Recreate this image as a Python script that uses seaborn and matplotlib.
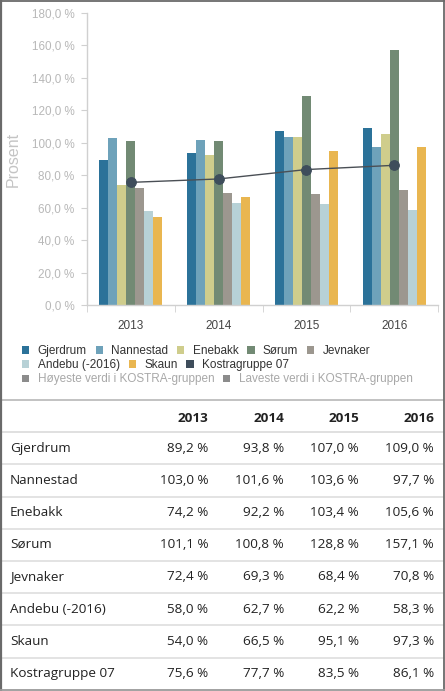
import matplotlib
matplotlib.use("Agg")
import matplotlib.pyplot as plt
from matplotlib.lines import Line2D
from matplotlib.patches import Patch
from matplotlib.ticker import FuncFormatter, FixedLocator
import seaborn as sns
import pandas as pd

years = ["2013", "2014", "2015", "2016"]
kommuner = ["Gjerdrum", "Nannestad", "Enebakk", "Sørum", "Jevnaker", "Andebu (-2016)", "Skaun"]
gjerdrum = [89.2, 93.8, 107.0, 109.0]
nannestad = [103.0, 101.6, 103.6, 97.7]
enebakk = [74.2, 92.2, 103.4, 105.6]
sorum = [101.1, 100.8, 128.8, 157.1]
jevnaker = [72.4, 69.3, 68.4, 70.8]
andebu = [58.0, 62.7, 62.2, 58.3]
skaun = [54.0, 66.5, 95.1, 97.3]
kostra_name = "Kostragruppe 07"
kostra = [75.6, 77.7, 83.5, 86.1]
extra_legend = ["Høyeste verdi i KOSTRA-gruppen", "Laveste verdi i KOSTRA-gruppen"]

colors = ["#2b7299", "#6ea2ba", "#cfcd8c", "#728a74", "#9c978f", "#b7d1d6", "#e9b650"]
kostra_color = "#3e4d5b"

series = [gjerdrum, nannestad, enebakk, sorum, jevnaker, andebu, skaun]
rows = []
for name, vals in zip(kommuner, series):
    for y, v in zip(years, vals):
        rows.append({"year": y, "kommune": name, "value": v})
df = pd.DataFrame(rows)
kdf = pd.DataFrame({"year": years, "value": kostra})

sns.set_style("white")
plt.rcParams["font.family"] = ["Liberation Sans", "DejaVu Sans"]

W, H = 445, 691
fig = plt.figure(figsize=(W / 100, H / 100), dpi=100)

def fx(px):
    return px / W

def fy(py):
    return 1 - py / H

ax = fig.add_axes([fx(87), fy(305), fx(438) - fx(87), fy(13) - fy(305)])
sns.barplot(data=df, x="year", y="value", hue="kommune", order=years, hue_order=kommuner,
            palette=colors, width=0.72, saturation=1, dodge=True, ax=ax, legend=False,
            linewidth=0, errorbar=None)
sns.pointplot(data=kdf, x="year", y="value", order=years, color=kostra_color, ax=ax,
              markers="o", markersize=7, linewidth=1.0, errorbar=None)
for line in ax.lines:
    line.set_color("#4a4f55")
    line.set_markerfacecolor(kostra_color)
    line.set_markeredgecolor(kostra_color)
for coll in ax.collections:
    coll.set_facecolor(kostra_color)
    coll.set_edgecolor(kostra_color)

ax.set_xlim(-0.5, 3.5)
ax.set_ylim(0, 180)
ax.set_yticks(range(0, 181, 20))
ax.yaxis.set_major_formatter(FuncFormatter(lambda v, p: f"{v:.1f}".replace(".", ",") + " %"))
ax.set_xlabel("")
ax.set_ylabel("Prosent", fontsize=11.5, color="#c4c4c4", labelpad=8)
for s in ["top", "right"]:
    ax.spines[s].set_visible(False)
for s in ["left", "bottom"]:
    ax.spines[s].set_color("#d0d0d0")
    ax.spines[s].set_linewidth(1.0)
ax.tick_params(axis="y", which="major", length=4, color="#d0d0d0", labelsize=8.4,
               labelcolor="#b8b8b8", pad=5, left=True)
ax.tick_params(axis="x", which="major", length=0, labelsize=8.5, labelcolor="#444444", pad=11)
ax.xaxis.set_minor_locator(FixedLocator([-0.5, 0.5, 1.5, 2.5, 3.5]))
ax.tick_params(axis="x", which="minor", length=5, color="#d0d0d0", bottom=True)
ax.yaxis.label.set_position((0, (fy(159) - fy(305)) / (fy(13) - fy(305))))

# legends
def make_legend(labels, cols, y, textcolor):
    handles = [Patch(facecolor=c, edgecolor="none") for c in cols]
    leg = fig.legend(handles, labels, loc="center left", bbox_to_anchor=(fx(22), fy(y)),
                     ncol=len(labels), frameon=False, fontsize=8.5, handlelength=0.62,
                     handleheight=0.62, handletextpad=0.7, columnspacing=0.75,
                     borderpad=0, borderaxespad=0)
    for t in leg.get_texts():
        t.set_color(textcolor)
    return leg

make_legend(kommuner[:5], colors[:5], 351, "#333333")
make_legend(kommuner[5:] + [kostra_name], colors[5:] + [kostra_color], 365, "#333333")
make_legend(extra_legend, ["#8c8c8c", "#8c8c8c"], 379.5, "#a8a8a8")

# table
tfont = ["Open Sans", "DejaVu Sans"]
col_x = [208, 284, 359, 434]
for x, yr in zip(col_x, years):
    fig.text(fx(x), fy(418), yr, ha="right", va="center", fontsize=9.7, fontweight="bold",
             color="#222222", family=tfont)
table_rows = list(zip(kommuner + [kostra_name], series + [kostra]))
line_y = [400 + 32.2 * i for i in range(1, 10)]
fig.add_artist(Line2D([fx(2), fx(443)], [fy(400), fy(400)], color="#bdbdbd", lw=1.3,
                      transform=fig.transFigure))
for i, (name, vals) in enumerate(table_rows):
    yc = 432 + 32.2 * i + 16.1
    fig.text(fx(10), fy(yc), name, ha="left", va="center", fontsize=9.7, color="#222222", family=tfont)
    for x, v in zip(col_x, vals):
        fig.text(fx(x), fy(yc), f"{v:.1f}".replace(".", ",") + " %", ha="right", va="center",
                 fontsize=9.7, color="#222222", family=tfont)
for ly in line_y[:8]:
    fig.add_artist(Line2D([fx(2), fx(443)], [fy(ly), fy(ly)], color="#e0e0e0", lw=1.3,
                          transform=fig.transFigure))
fig.add_artist(Line2D([fx(2), fx(443)], [fy(432), fy(432)], color="#e0e0e0", lw=1.3,
                      transform=fig.transFigure))

# frame
fr = "#6a6a6a"
fig.add_artist(Line2D([fx(1), fx(1)], [0, 1], color=fr, lw=1.6, transform=fig.transFigure))
fig.add_artist(Line2D([fx(443.5), fx(443.5)], [0, 1], color=fr, lw=1.3, transform=fig.transFigure))
fig.add_artist(Line2D([0, 1], [fy(0.5), fy(0.5)], color=fr, lw=1.3, transform=fig.transFigure))
fig.add_artist(Line2D([0, 1], [fy(690), fy(690)], color="#9a9a9a", lw=1.3, transform=fig.transFigure))

fig.savefig("out.png", dpi=100)
